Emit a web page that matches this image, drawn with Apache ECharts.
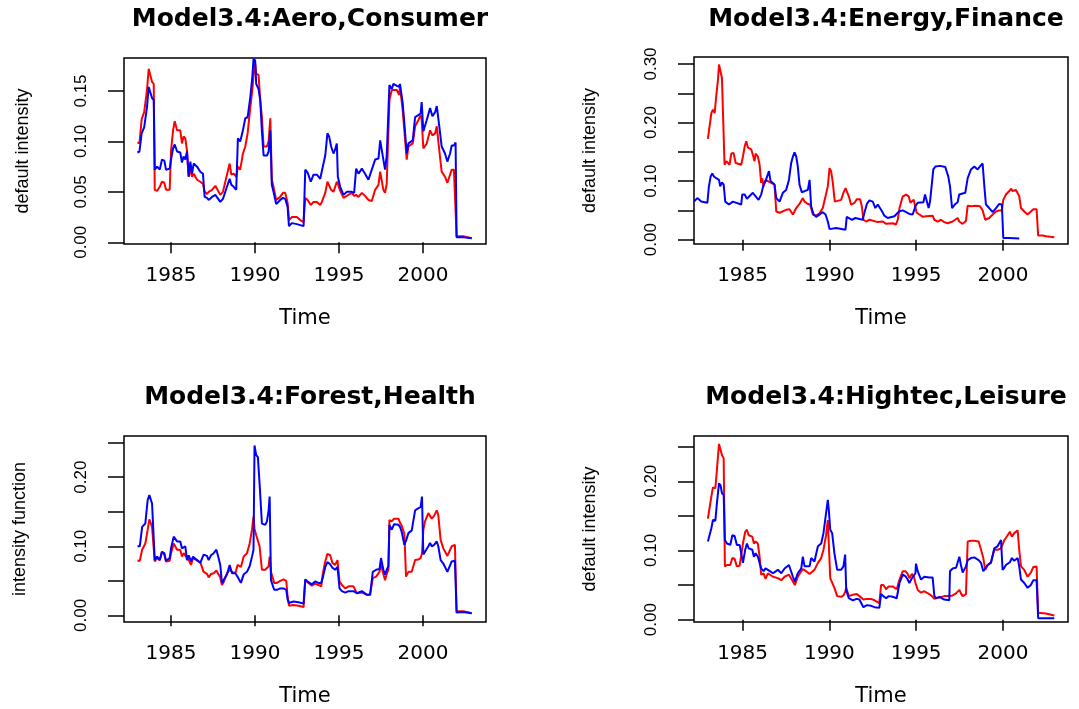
<!DOCTYPE html>
<html>
<head>
<meta charset="utf-8">
<script src="https://cdn.jsdelivr.net/npm/echarts@6.0.0/dist/echarts.min.js"></script>
<style>
  html, body { margin: 0; padding: 0; background: #fff; }
  #chart { width: 1079px; height: 709px; }
</style>
</head>
<body>
<div id="chart"></div>
<script>
// panel titles and axis names
const titles = ["Model3.4:Aero,Consumer", "Model3.4:Energy,Finance", "Model3.4:Forest,Health", "Model3.4:Hightec,Leisure"];
const yNames = ["default intensity", "default intensity", "intensity function", "default intensity"];
const xName = "Time";
const xTicks = [1985, 1990, 1995, 2000];

// Aero (red) vs Consumer (blue)
const t1 = [1983.00,1983.12,1983.25,1983.40,1983.57,1983.67,1983.77,1983.87,1983.97,1984.03,
  1984.17,1984.33,1984.46,1984.60,1984.70,1984.92,1985.00,1985.12,1985.22,1985.36,
  1985.55,1985.65,1985.75,1985.85,1985.95,1986.05,1986.15,1986.25,1986.35,1986.55,
  1986.74,1986.90,1987.00,1987.14,1987.24,1987.44,1987.64,1987.93,1988.09,1988.33,
  1988.49,1988.59,1988.73,1988.88,1988.98,1989.12,1989.28,1989.42,1989.56,1989.72,
  1989.84,1989.91,1990.01,1990.07,1990.21,1990.31,1990.41,1990.51,1990.71,1990.81,
  1990.91,1991.00,1991.10,1991.26,1991.50,1991.66,1991.80,1991.94,1992.02,1992.19,
  1992.49,1992.69,1992.89,1992.99,1993.13,1993.32,1993.48,1993.68,1993.88,1993.98,
  1994.18,1994.31,1994.41,1994.53,1994.67,1994.77,1994.87,1994.93,1995.07,1995.27,
  1995.46,1995.76,1995.90,1996.02,1996.16,1996.36,1996.55,1996.75,1996.95,1997.15,
  1997.35,1997.45,1997.64,1997.74,1997.84,1997.94,1998.00,1998.14,1998.24,1998.44,
  1998.58,1998.63,1998.79,1998.89,1999.03,1999.13,1999.39,1999.53,1999.72,1999.86,
  1999.92,2000.02,2000.22,2000.42,2000.56,2000.72,2000.82,2000.97,2001.11,2001.31,
  2001.45,2001.61,2001.71,2001.84,2001.94,2002.00,2002.40,2002.90];
const red1 = [.099,.098,.122,.129,.151,.172,.172,.159,.157,.052,
  .051,.055,.060,.059,.052,.052,.091,.111,.120,.111,
  .111,.098,.105,.103,.091,.065,.072,.065,.068,.062,
  .060,.058,.050,.048,.050,.052,.056,.047,.050,.067,
  .078,.067,.068,.065,.075,.072,.088,.095,.108,.134,
  .151,.165,.177,.167,.166,.141,.124,.095,.095,.100,
  .123,.062,.055,.042,.045,.049,.049,.039,.022,.025,
  .025,.022,.020,.044,.042,.037,.040,.040,.037,.040,
  .049,.060,.059,.052,.050,.051,.060,.058,.051,.044,
  .046,.049,.046,.047,.045,.049,.046,.042,.041,.052,
  .057,.070,.052,.049,.058,.058,.141,.151,.152,.151,
  .146,.154,.131,.111,.082,.095,.098,.115,.121,.126,
  .122,.093,.098,.111,.106,.108,.115,.091,.070,.065,
  .059,.067,.072,.072,.073,.006,.006,.004];
const blue1 = [.089,.090,.108,.114,.134,.154,.154,.143,.141,.072,
  .075,.072,.082,.081,.072,.073,.082,.093,.097,.090,
  .089,.079,.085,.082,.090,.065,.080,.068,.078,.075,
  .070,.068,.045,.044,.042,.045,.047,.040,.043,.055,
  .063,.057,.055,.052,.103,.100,.111,.123,.124,.144,
  .164,.182,.180,.157,.152,.141,.110,.086,.086,.090,
  .111,.057,.050,.038,.042,.044,.043,.035,.016,.019,
  .018,.017,.016,.072,.069,.060,.067,.067,.063,.062,
  .086,.108,.105,.095,.088,.092,.098,.065,.055,.047,
  .050,.050,.049,.073,.068,.073,.068,.062,.072,.082,
  .083,.101,.082,.072,.086,.086,.156,.152,.157,.155,
  .154,.157,.138,.118,.088,.098,.101,.124,.126,.128,
  .139,.110,.121,.133,.125,.129,.135,.115,.095,.088,
  .080,.088,.096,.096,.099,.005,.005,.004];

// Energy (red) vs Finance (blue), different spans
const tRed2 = [1983.00,1983.10,1983.20,1983.29,1983.39,1983.48,1983.58,1983.64,1983.73,1983.81,
  1983.91,1983.96,1984.06,1984.15,1984.25,1984.35,1984.48,1984.60,1984.92,1985.02,
  1985.12,1985.21,1985.31,1985.50,1985.59,1985.69,1985.75,1985.88,1985.98,1986.07,
  1986.13,1986.21,1986.32,1986.65,1986.84,1986.94,1987.13,1987.51,1987.70,1987.90,
  1988.09,1988.28,1988.47,1988.57,1988.76,1988.89,1989.05,1989.24,1989.43,1989.62,
  1989.78,1989.91,1990.01,1990.10,1990.20,1990.31,1990.68,1990.81,1990.93,1991.00,
  1991.12,1991.25,1991.45,1991.58,1991.77,1991.87,1991.96,1992.12,1992.31,1992.79,
  1992.88,1993.08,1993.27,1993.65,1993.84,1993.94,1994.04,1994.23,1994.42,1994.57,
  1994.67,1994.86,1994.96,1995.03,1995.19,1995.38,1995.57,1995.95,1996.05,1996.24,
  1996.43,1996.62,1996.82,1997.10,1997.39,1997.48,1997.68,1997.87,1997.97,1998.16,
  1998.45,1998.68,1998.83,1998.98,1999.21,1999.41,1999.60,1999.79,1999.94,2000.02,
  2000.17,2000.37,2000.46,2000.56,2000.75,2000.85,2000.94,2001.04,2001.23,2001.42,
  2001.61,2001.75,2001.94,2002.03,2002.28,2002.48,2002.96];
const red2 = [.172,.171,.216,.222,.216,.245,.273,.299,.299,.276,
  .273,.128,.134,.131,.128,.147,.148,.131,.128,.142,
  .159,.168,.157,.154,.145,.134,.147,.142,.128,.097,
  .105,.091,.102,.097,.094,.048,.046,.051,.052,.043,
  .054,.061,.071,.065,.061,.060,.043,.041,.045,.054,
  .074,.091,.122,.117,.097,.065,.068,.080,.088,.086,
  .074,.060,.063,.069,.069,.057,.034,.031,.034,.030,
  .027,.031,.027,.028,.026,.034,.054,.074,.077,.074,
  .063,.068,.068,.046,.043,.039,.040,.041,.034,.031,
  .034,.030,.028,.031,.037,.031,.027,.032,.058,.057,
  .058,.057,.050,.034,.037,.043,.048,.050,.050,.068,
  .077,.083,.087,.083,.085,.088,.074,.054,.048,.043,
  .048,.052,.052,.007,.007,.006,.004];
const tBlue2 = [1982.20,1982.30,1982.39,1982.50,1982.62,1982.97,1983.06,1983.16,1983.25,1983.35,
  1983.48,1983.64,1983.71,1983.81,1983.91,1984.00,1984.10,1984.21,1984.44,1984.92,
  1984.98,1985.12,1985.25,1985.59,1985.69,1985.92,1986.07,1986.21,1986.32,1986.52,
  1986.61,1986.84,1986.94,1987.13,1987.32,1987.51,1987.67,1987.80,1987.90,1987.99,
  1988.09,1988.18,1988.28,1988.41,1988.76,1988.86,1988.95,1989.09,1989.24,1989.62,
  1989.78,1989.91,1990.01,1990.39,1990.93,1991.00,1991.31,1991.50,1991.92,1992.02,
  1992.16,1992.31,1992.50,1992.65,1992.79,1993.04,1993.17,1993.36,1993.75,1994.00,
  1994.23,1994.61,1994.80,1994.96,1995.09,1995.42,1995.51,1995.72,1995.80,1995.91,
  1995.99,1996.11,1996.38,1996.68,1996.85,1996.95,1997.07,1997.26,1997.39,1997.48,
  1997.83,1997.97,1998.16,1998.35,1998.45,1998.54,1998.68,1998.83,1998.93,1999.02,
  1999.21,1999.41,1999.60,1999.79,1999.94,2000.02,2000.37,2000.94];
const blue2 = [.065,.065,.071,.071,.065,.063,.091,.108,.113,.108,
  .105,.102,.091,.098,.094,.065,.068,.060,.065,.060,
  .077,.077,.070,.080,.083,.068,.077,.094,.100,.117,
  .100,.094,.071,.065,.080,.085,.102,.131,.142,.149,
  .142,.125,.094,.081,.085,.102,.057,.043,.039,.047,
  .043,.031,.018,.020,.017,.039,.034,.037,.034,.046,
  .061,.067,.065,.054,.060,.048,.041,.037,.040,.048,
  .050,.044,.043,.057,.063,.064,.077,.054,.065,.063,
  .120,.125,.126,.124,.108,.091,.054,.061,.064,.077,
  .080,.105,.120,.125,.128,.120,.125,.130,.091,.060,
  .054,.047,.054,.061,.060,.003,.003,.002];

// Forest (red) vs Health (blue)
const t3 = [1983.00,1983.14,1983.28,1983.47,1983.61,1983.71,1983.81,1983.87,1983.97,1984.03,
  1984.17,1984.33,1984.46,1984.60,1984.70,1984.92,1985.00,1985.16,1985.26,1985.36,
  1985.55,1985.65,1985.75,1985.85,1985.95,1986.05,1986.19,1986.31,1986.55,1986.74,
  1986.94,1987.14,1987.24,1987.38,1987.54,1987.70,1987.83,1987.93,1988.03,1988.13,
  1988.33,1988.49,1988.63,1988.83,1988.96,1989.16,1989.32,1989.52,1989.68,1989.82,
  1989.91,1989.97,1990.07,1990.17,1990.27,1990.41,1990.61,1990.71,1990.81,1990.87,
  1990.95,1991.14,1991.30,1991.50,1991.70,1991.86,1991.94,1992.02,1992.29,1992.59,
  1992.89,1992.99,1993.18,1993.38,1993.58,1993.78,1993.94,1994.04,1994.18,1994.31,
  1994.47,1994.61,1994.77,1994.91,1995.03,1995.17,1995.37,1995.57,1995.86,1996.06,
  1996.36,1996.65,1996.85,1997.01,1997.21,1997.41,1997.50,1997.64,1997.74,1997.84,
  1997.94,1998.00,1998.14,1998.28,1998.54,1998.63,1998.73,1998.89,1998.99,1999.13,
  1999.33,1999.53,1999.72,1999.86,1999.94,2000.02,2000.12,2000.32,2000.42,2000.52,
  2000.66,2000.82,2000.91,2001.05,2001.21,2001.45,2001.71,2001.90,2002.00,2002.40,
  2002.90];
const red3 = [.079,.079,.095,.104,.124,.139,.138,.128,.128,.078,
  .083,.080,.092,.088,.078,.079,.090,.104,.102,.095,
  .095,.085,.090,.090,.083,.080,.073,.083,.079,.077,
  .063,.060,.055,.060,.061,.065,.059,.055,.044,.048,
  .061,.066,.063,.061,.073,.070,.085,.090,.104,.124,
  .143,.125,.116,.114,.100,.066,.066,.068,.071,.085,
  .063,.047,.047,.050,.052,.050,.027,.014,.015,.014,
  .012,.051,.047,.043,.046,.044,.042,.061,.078,.089,
  .087,.076,.073,.080,.049,.044,.039,.042,.042,.032,
  .033,.030,.030,.054,.056,.063,.073,.060,.051,.060,
  .066,.138,.136,.140,.140,.134,.130,.118,.056,.063,
  .063,.080,.081,.083,.090,.124,.136,.148,.150,.140,
  .144,.152,.145,.109,.097,.086,.100,.102,.006,.006,
  .003];
const blue3 = [.100,.100,.128,.133,.167,.174,.172,.162,.160,.080,
  .085,.080,.092,.090,.079,.083,.097,.114,.116,.107,
  .107,.097,.099,.100,.080,.087,.078,.085,.080,.076,
  .088,.086,.080,.087,.090,.095,.083,.073,.047,.051,
  .059,.073,.061,.061,.056,.047,.059,.063,.071,.085,
  .095,.246,.232,.229,.191,.133,.131,.136,.152,.172,
  .051,.037,.037,.039,.039,.037,.023,.018,.020,.019,
  .017,.052,.048,.045,.049,.047,.047,.055,.070,.077,
  .074,.069,.066,.070,.039,.035,.033,.035,.035,.032,
  .035,.030,.030,.063,.066,.067,.083,.066,.059,.066,
  .071,.131,.124,.132,.131,.128,.121,.102,.108,.119,
  .123,.152,.155,.157,.172,.088,.090,.100,.105,.100,
  .102,.107,.100,.080,.075,.063,.078,.079,.004,.005,
  .003];

// Hightec (red) vs Leisure (blue)
const t4 = [1983.00,1983.10,1983.20,1983.29,1983.43,1983.52,1983.64,1983.73,1983.81,1983.91,
  1983.98,1984.10,1984.21,1984.29,1984.41,1984.54,1984.67,1984.83,1984.92,1985.02,
  1985.15,1985.25,1985.35,1985.56,1985.65,1985.75,1985.88,1985.98,1986.07,1986.21,
  1986.32,1986.46,1986.75,1987.03,1987.23,1987.42,1987.67,1987.90,1988.01,1988.18,
  1988.38,1988.47,1988.57,1988.66,1988.86,1988.95,1989.14,1989.34,1989.53,1989.66,
  1989.81,1989.91,1989.97,1990.05,1990.16,1990.29,1990.45,1990.68,1990.81,1990.91,
  1990.97,1991.12,1991.35,1991.58,1991.73,1991.96,1992.16,1992.40,1992.60,1992.88,
  1992.98,1993.11,1993.27,1993.42,1993.65,1993.88,1994.04,1994.23,1994.38,1994.51,
  1994.61,1994.76,1994.86,1994.96,1994.99,1995.09,1995.19,1995.28,1995.47,1995.76,
  1995.95,1996.05,1996.15,1996.34,1996.62,1996.91,1996.95,1997.10,1997.20,1997.30,
  1997.49,1997.58,1997.68,1997.72,1997.87,1997.97,1998.16,1998.35,1998.60,1998.74,
  1998.87,1998.98,1999.12,1999.31,1999.50,1999.69,1999.89,1999.98,2000.08,2000.17,
  2000.27,2000.40,2000.52,2000.65,2000.85,2000.94,2001.04,2001.23,2001.42,2001.61,
  2001.75,2001.94,2002.03,2002.48,2002.96];
const red4 = [.146,.145,.178,.191,.190,.216,.254,.255,.238,.233,
  .077,.079,.077,.079,.089,.088,.077,.078,.078,.110,
  .127,.130,.122,.120,.110,.113,.110,.091,.065,.067,
  .059,.067,.062,.060,.057,.062,.065,.055,.050,.062,
  .070,.073,.071,.070,.066,.068,.072,.082,.089,.101,
  .122,.144,.142,.060,.058,.046,.034,.033,.035,.040,
  .046,.034,.036,.037,.034,.029,.030,.030,.028,.024,
  .050,.050,.044,.048,.048,.044,.058,.070,.070,.066,
  .060,.066,.063,.053,.052,.043,.041,.039,.041,.037,
  .033,.030,.031,.032,.034,.034,.034,.035,.036,.038,
  .043,.038,.034,.035,.037,.113,.114,.114,.113,.101,
  .089,.072,.079,.083,.101,.101,.103,.105,.115,.118,
  .120,.127,.120,.125,.129,.101,.077,.072,.062,.068,
  .076,.077,.010,.009,.006];
const blue4 = [.113,.113,.132,.144,.143,.168,.197,.194,.183,.180,
  .115,.110,.112,.108,.122,.121,.108,.108,.109,.082,
  .101,.110,.103,.101,.091,.096,.091,.082,.074,.070,
  .074,.072,.067,.072,.067,.074,.079,.062,.055,.067,
  .074,.091,.077,.079,.077,.089,.084,.106,.110,.125,
  .154,.173,.158,.130,.125,.096,.072,.072,.077,.094,
  .043,.031,.028,.030,.029,.018,.021,.020,.018,.017,
  .037,.034,.031,.034,.033,.031,.053,.065,.063,.058,
  .053,.060,.061,.067,.081,.070,.072,.058,.062,.061,
  .061,.034,.031,.033,.029,.028,.070,.074,.074,.075,
  .091,.079,.068,.067,.077,.086,.089,.090,.086,.082,
  .070,.072,.079,.082,.103,.106,.115,.072,.075,.079,
  .081,.083,.089,.085,.089,.077,.058,.053,.046,.050,
  .057,.057,.002,.002,.002];

// y ticks / labels per panel
const yTicks1 = [0, 0.05, 0.10, 0.15];
const yLabels1 = [0, 0.05, 0.10, 0.15];
const yTicks2 = [0, 0.05, 0.10, 0.15, 0.20, 0.25, 0.30];
const yLabels2 = [0, 0.10, 0.20, 0.30];
const yTicks34 = [0, 0.05, 0.10, 0.15, 0.20, 0.25];
const yLabels34 = [0, 0.10, 0.20];

function zip(t, v) {
  return t.map((x, i) => [x, v[i]]);
}

const panels = [
  { grid: { left: 124, top: 58, width: 362, height: 186 }, titleTop: 2,
    yMin: -0.0017, yMax: 0.1827, ticks: yTicks1, labels: yLabels1, nameGap: 92,
    red: zip(t1, red1), blue: zip(t1, blue1) },
  { grid: { left: 694, top: 57, width: 374, height: 187 }, titleTop: 2,
    yMin: -0.0074, yMax: 0.3119, ticks: yTicks2, labels: yLabels2, nameGap: 95,
    red: zip(tRed2, red2), blue: zip(tBlue2, blue2) },
  { grid: { left: 124, top: 436, width: 362, height: 186 }, titleTop: 380,
    yMin: -0.0096, yMax: 0.2596, ticks: yTicks34, labels: yLabels34, nameGap: 95,
    red: zip(t3, red3), blue: zip(t3, blue3) },
  { grid: { left: 694, top: 436, width: 374, height: 186 }, titleTop: 380,
    yMin: -0.0034, yMax: 0.2654, ticks: yTicks34, labels: yLabels34, nameGap: 95,
    red: zip(t4, red4), blue: zip(t4, blue4) }
];

const hFont = "'DejaVu Sans', sans-serif";
const vFont = "'Liberation Sans', Arial, sans-serif";

const option = {
  animation: false,
  backgroundColor: "#fff",
  title: panels.map((p, i) => ({
    text: titles[i],
    left: p.grid.left + p.grid.width / 2,
    top: p.titleTop,
    textAlign: "center",
    textStyle: { fontFamily: hFont, fontWeight: "bold", fontSize: 25, color: "#000" }
  })),
  grid: panels.map(p => Object.assign({
    show: true, borderColor: "#000", borderWidth: 1.5, backgroundColor: "transparent"
  }, p.grid)),
  xAxis: panels.map((p, i) => ({
    type: "value", gridIndex: i, min: 1982.2, max: 2003.75,
    name: xName, nameLocation: "middle", nameGap: 64,
    nameTextStyle: { fontFamily: hFont, fontSize: 21, color: "#000" },
    axisLine: { show: false },
    axisTick: { show: true, inside: false, length: 11, customValues: xTicks,
      lineStyle: { color: "#000", width: 1.5 } },
    axisLabel: { show: true, margin: 22, customValues: xTicks,
      fontFamily: hFont, fontSize: 20, color: "#000", formatter: v => String(v) },
    splitLine: { show: false }
  })),
  yAxis: panels.map((p, i) => ({
    type: "value", gridIndex: i, min: p.yMin, max: p.yMax,
    name: yNames[i], nameLocation: "middle", nameGap: p.nameGap,
    nameTextStyle: { fontFamily: vFont, fontSize: 18, color: "#000" },
    axisLine: { show: false },
    axisTick: { show: true, inside: false, length: 16, customValues: p.ticks,
      lineStyle: { color: "#000", width: 1.5 } },
    axisLabel: { show: true, rotate: 90, margin: 34, customValues: p.labels,
      fontFamily: vFont, fontSize: 17, color: "#000", formatter: v => v.toFixed(2) },
    splitLine: { show: false }
  })),
  series: panels.flatMap((p, i) => [
    { type: "line", xAxisIndex: i, yAxisIndex: i, data: p.red, showSymbol: false,
      lineStyle: { color: "#ff0000", width: 2 }, itemStyle: { color: "#ff0000" } },
    { type: "line", xAxisIndex: i, yAxisIndex: i, data: p.blue, showSymbol: false,
      lineStyle: { color: "#0000ff", width: 2 }, itemStyle: { color: "#0000ff" } }
  ])
};

const chart = echarts.init(document.getElementById("chart"), null, { renderer: "canvas" });
chart.setOption(option);
</script>
</body>
</html>
